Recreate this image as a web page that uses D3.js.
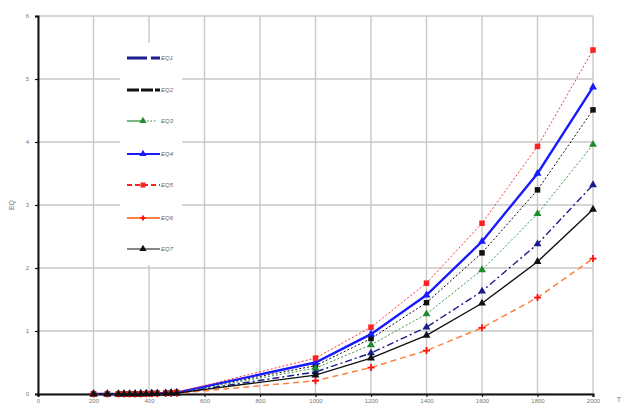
<!DOCTYPE html>
<html><head><meta charset="utf-8">
<script src="https://cdn.jsdelivr.net/npm/d3@7"></script>
<style>body{margin:0;background:#fff}svg{display:block}</style>
</head><body><svg id="c" width="626" height="405"></svg>
<script>
// ---- data ----
const xValues = [200,250,290,310,330,350,370,390,410,430,460,480,500,1000,1200,1400,1600,1800,2000];
const seriesNames = ["EQ1","EQ2","EQ3","EQ4","EQ5","EQ6","EQ7"];
const eq1 = [0,0,0,0,0,0,0.002,0.004,0.005,0.007,0.01,0.013,0.016,0.35,0.65,1.06,1.63,2.38,3.32];
const eq2 = [0,0,0,0,0,0,0.003,0.005,0.007,0.009,0.013,0.017,0.022,0.45,0.88,1.45,2.24,3.24,4.51];
const eq3 = [0,0,0,0,0,0,0.002,0.004,0.006,0.008,0.012,0.015,0.019,0.41,0.78,1.27,1.97,2.86,3.96];
const eq4 = [0,0,0,0,0,0,0.003,0.005,0.007,0.01,0.014,0.018,0.023,0.50,0.95,1.57,2.42,3.50,4.87];
const eq5 = [0,0,0,0,0,0,0.003,0.006,0.008,0.011,0.016,0.02,0.026,0.57,1.06,1.76,2.71,3.93,5.46];
const eq6 = [0,0,0,0,0,0,0.001,0.002,0.003,0.004,0.006,0.008,0.01,0.21,0.42,0.69,1.05,1.53,2.15];
const eq7 = [0,0,0,0,0,0,0.002,0.003,0.005,0.006,0.009,0.012,0.014,0.30,0.57,0.93,1.44,2.10,2.93];
const xTicks = [0,200,400,600,800,1000,1200,1400,1600,1800,2000];
const yTicks = [0,1,2,3,4,5,6];
const yLabel = "EQ";
const xLabel = "T";

const styles = [
  {color:"#1c1c8e", width:1.4, dash:"7,3,2,3", lw:3, ldash:"20,4", marker:"tri"},
  {color:"#111111", width:1, dash:"2,2", lw:3, ldash:"12,2", marker:"sq"},
  {color:"#1e8c2e", width:0.9, dash:"2,2", lw:1.2, ldash:null, marker:"tri", legendDots:true},
  {color:"#1a1aff", width:2.4, dash:null, lw:1.8, ldash:null, marker:"tri"},
  {color:"#ff2020", width:0.9, dash:"2,2", lw:1.8, ldash:"5,3", marker:"sq"},
  {color:"#ff8040", width:1.5, dash:"6,4", lw:1.8, ldash:null, marker:"plus", mcolor:"#ff1010"},
  {color:"#111111", width:1.4, dash:null, lw:1.2, ldash:null, marker:"tri"}
];
const allSeries = [eq1,eq2,eq3,eq4,eq5,eq6,eq7];

const svg = d3.select("#c");
const m = {l:38, r:33, t:16, b:11};
const W = 626, H = 405;
const x = d3.scaleLinear().domain([0,2000]).range([m.l, W-m.r]);
const y = d3.scaleLinear().domain([0,6]).range([H-m.b, m.t]);

// grid
const grid = svg.append("g").attr("stroke","#c8c8c8").attr("stroke-width",1.4);
xTicks.forEach(t=>grid.append("line").attr("x1",x(t)).attr("x2",x(t)).attr("y1",y(0)).attr("y2",y(6)));
yTicks.forEach(t=>grid.append("line").attr("x1",x(0)).attr("x2",x(2000)).attr("y1",y(t)).attr("y2",y(t)));

// legend background
svg.append("rect").attr("x",120).attr("y",43).attr("width",62).attr("height",222).attr("fill","#fff");

// axes
const xAxis = d3.axisBottom(x).tickValues(xTicks).tickSize(3).tickFormat(d3.format("d"));
const yAxis = d3.axisLeft(y).tickValues(yTicks).tickSize(3).tickFormat(d3.format("d"));
const gx = svg.append("g").attr("transform",`translate(0,${y(0)})`).call(xAxis);
const gy = svg.append("g").attr("transform",`translate(${x(0)},0)`).call(yAxis);
[gx,gy].forEach(g=>{
  g.select(".domain").attr("stroke","#111").attr("stroke-width",2);
  g.selectAll(".tick line").attr("stroke","#111").attr("stroke-width",1.2);
  g.selectAll(".tick text").attr("fill","#777").attr("font-family","Liberation Sans, Arial, sans-serif").attr("font-size",6);
});
gx.selectAll(".tick text").attr("dy","0.5em");
gy.selectAll(".tick text").attr("dx","-0.5em");

svg.append("text").attr("transform",`translate(14,${y(3)}) rotate(-90)`).attr("text-anchor","middle")
  .attr("font-family","Liberation Sans, Arial, sans-serif").attr("font-size",7).attr("fill","#777").text(yLabel);
svg.append("text").attr("x",619).attr("y",402).attr("text-anchor","middle")
  .attr("font-family","Liberation Sans, Arial, sans-serif").attr("font-size",7).attr("fill","#777").text(xLabel);

function marker(g, type, cx, cy, col, s){
  if(type==="sq") g.append("rect").attr("x",cx-s/2).attr("y",cy-s/2).attr("width",s).attr("height",s).attr("fill",col);
  else if(type==="tri") g.append("path").attr("d",d3.symbol(d3.symbolTriangle, s*s*0.9)()).attr("transform",`translate(${cx},${cy})`).attr("fill",col);
  else if(type==="plus") g.append("path").attr("d",`M${cx-s/2},${cy}H${cx+s/2}M${cx},${cy-s/2}V${cy+s/2}`).attr("stroke",col).attr("stroke-width",1.8);
}

const line = d3.line().x(d=>x(d[0])).y(d=>y(d[1])).curve(d3.curveLinear);
allSeries.forEach((vals,i)=>{
  const st = styles[i];
  const pts = xValues.map((xv,j)=>[xv, vals[j]]);
  const g = svg.append("g");
  g.append("path").attr("d",line(pts)).attr("fill","none").attr("stroke",st.color)
    .attr("stroke-width",st.width).attr("stroke-dasharray",st.dash);
  pts.forEach(p=>marker(g, st.marker, x(p[0]), y(p[1]), st.mcolor||st.color, st.marker==="plus"?7:5.5));
});

// legend
const legY = [58,90,121,154,185,218,249];
seriesNames.forEach((name,i)=>{
  const st = styles[i];
  const g = svg.append("g");
  const yy = legY[i];
  if(st.legendDots){
    g.append("line").attr("x1",127).attr("x2",141).attr("y1",yy).attr("y2",yy).attr("stroke",st.color).attr("stroke-width",st.lw);
    g.append("line").attr("x1",147).attr("x2",156).attr("y1",yy).attr("y2",yy).attr("stroke",st.color).attr("stroke-width",st.lw).attr("stroke-dasharray","1.5,2");
  } else {
    g.append("line").attr("x1",127).attr("x2",160).attr("y1",yy).attr("y2",yy).attr("stroke",st.color)
      .attr("stroke-width",st.lw).attr("stroke-dasharray",st.ldash);
  }
  if(i>=2) marker(g, st.marker, 143, yy, st.mcolor||st.color, 5);
  g.append("text").attr("x",161).attr("y",yy+2).attr("font-family","Liberation Sans, Arial, sans-serif")
    .attr("font-size",6).attr("font-style","italic").attr("fill","#666").text(name);
});
</script></body></html>
